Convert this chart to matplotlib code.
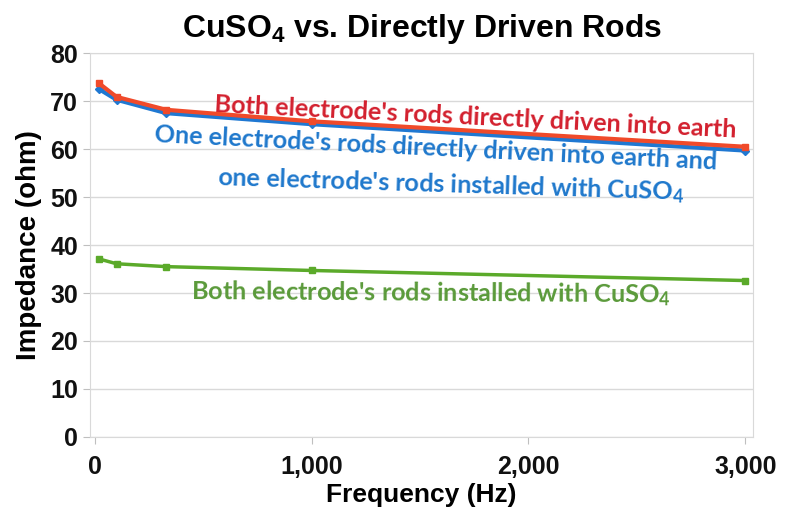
import matplotlib
matplotlib.use("Agg")
import matplotlib.pyplot as plt

# 数据：频率与阻抗
freq = [20, 100, 330, 1000, 3000]
both_direct = [73.7, 70.9, 68.2, 65.8, 60.5]
one_each = [72.5, 70.3, 67.5, 65.2, 59.7]
both_cuso4 = [37.1, 36.1, 35.5, 34.7, 32.6]

xticks = [0, 1000, 2000, 3000]
xlabels = ["0", "1,000", "2,000", "3,000"]
yticks = list(range(0, 81, 10))

plt.rcParams['font.family'] = ['Liberation Sans', 'DejaVu Sans']
plt.rcParams['mathtext.default'] = 'regular'

fig = plt.figure(figsize=(7.88, 5.27), dpi=100)
ax = fig.add_axes([0.114, 0.171, 0.842, 0.728])

ax.plot(freq, both_direct, color="#F04A2A", lw=3, marker="s", ms=4, zorder=4)
ax.plot(freq, one_each, color="#1F78D2", lw=3, marker="D", ms=4, zorder=3)
ax.plot(freq, both_cuso4, color="#5BAA2A", lw=2.5, marker="s", ms=5, zorder=3)

ax.set_xlim(-23, 3037)
ax.set_ylim(0, 80)
ax.set_xticks(xticks)
ax.set_xticklabels(xlabels)
ax.set_yticks(yticks)
ax.grid(axis="y", color="#D9D9D9", lw=1)
ax.set_axisbelow(True)
for s in ax.spines.values():
    s.set_color("#D9D9D9")
ax.tick_params(colors="#BFBFBF", labelcolor="#111111", length=5, labelsize=18)
ax.tick_params(axis="x", pad=8)
for lab in ax.get_xticklabels() + ax.get_yticklabels():
    lab.set_fontweight("bold")

ax.set_xlabel("Frequency (Hz)", fontsize=19, fontweight="bold", labelpad=3)
ax.set_ylabel("Impedance (ohm)", fontsize=20, fontweight="bold", labelpad=6)
ax.set_title("CuSO$_4$ vs. Directly Driven Rods", fontsize=23, fontweight="bold", pad=12)

tf = dict(family=["Lato", "DejaVu Sans"], fontsize=18.2, fontweight="bold", ha="center", va="center")
ax.text(1754, 66.7, "Both electrode's rods directly driven into earth", color="#D3202E", rotation=-2.8, **tf)
ax.text(1574, 60.2, "One electrode's rods directly driven into earth and", color="#1F78CC", rotation=-2.8, **tf)
ax.text(1643, 52.5, "one electrode's rods installed with CuSO$_4$", color="#1F78CC", rotation=-1.8, **tf)
ax.text(1551, 30.0, "Both electrode's rods installed with CuSO$_4$", color="#5A9A3A", rotation=-0.4, **tf)

plt.savefig("out.png", dpi=100)
